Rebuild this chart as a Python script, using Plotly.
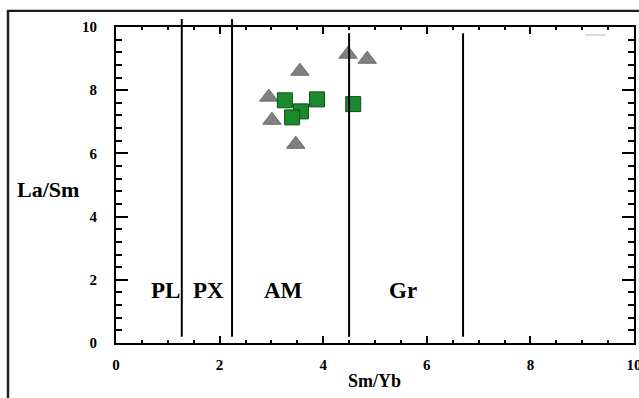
import plotly.graph_objects as go

# ---- data ----
tri_x = [4.48, 4.85, 3.55, 2.95, 3.01, 3.47]
tri_y = [9.14, 8.98, 8.60, 7.78, 7.05, 6.29]

sq_x = [3.26, 3.88, 3.57, 3.40, 4.58]
sq_y = [7.68, 7.71, 7.33, 7.14, 7.56]

boundary_x = [1.27, 2.24, 4.50, 6.70]
boundary_top = [10.25, 10.25, 9.8, 9.8]
boundary_bottom = [0.2, 0.2, 0.2, 0.2]

field_labels = ["PL", "PX", "AM", "Gr"]
field_x = [0.95, 1.78, 3.24, 5.54]
field_y = [1.65, 1.65, 1.65, 1.65]

X_RANGE = [0, 10]
Y_RANGE = [0, 10]
X_DTICK = 2
Y_DTICK = 2

SERIF = "Liberation Serif, Times New Roman, serif"

fig = go.Figure()

fig.add_trace(go.Scatter(
    x=tri_x, y=tri_y, mode="markers",
    marker=dict(symbol="triangle-up", size=16, color="#808080",
                line=dict(color="#6a6a6a", width=1)),
    showlegend=False, cliponaxis=False))

fig.add_trace(go.Scatter(
    x=sq_x, y=sq_y, mode="markers",
    marker=dict(symbol="square", size=15, color="#1b8a2c",
                line=dict(color="#0c4f16", width=1)),
    showlegend=False, cliponaxis=False))


def py(v):
    return (v - Y_RANGE[0]) / (Y_RANGE[1] - Y_RANGE[0])


shapes = []
for bx, bt, bb in zip(boundary_x, boundary_top, boundary_bottom):
    shapes.append(dict(type="line", xref="x", yref="paper",
                       x0=bx, x1=bx, y0=py(bb), y1=py(bt),
                       line=dict(color="black", width=2)))

# outer picture border: top edge as a thin filled band, left edge as a line
shapes.append(dict(type="rect", xref="paper", yref="paper",
                   x0=-0.2105, x1=1.05, y0=1.0475, y1=1.0545,
                   fillcolor="#1a1a1a", line=dict(width=0), layer="above"))
shapes.append(dict(type="line", xref="paper", yref="paper",
                   x0=-0.2085, x1=-0.2085, y0=-0.3, y1=1.054,
                   line=dict(color="#222222", width=2.5), layer="above"))
# faint artefact near top right
shapes.append(dict(type="line", xref="paper", yref="paper",
                   x0=0.905, x1=0.945, y0=0.975, y1=0.975,
                   line=dict(color="#d5dbe0", width=2)))

annotations = []
for t, fx, fy in zip(field_labels, field_x, field_y):
    annotations.append(dict(text=t, x=fx, y=fy, xref="x", yref="y",
                            xanchor="center", yanchor="middle",
                            showarrow=False,
                            font=dict(family=SERIF, size=23, color="black",
                                      weight="bold")))

annotations.append(dict(text="La/Sm", x=-0.132, y=0.487, xref="paper",
                        yref="paper", xanchor="center", yanchor="middle",
                        showarrow=False,
                        font=dict(family=SERIF, size=22, color="black",
                                  weight="bold")))
annotations.append(dict(text="Sm/Yb", x=0.499, y=-0.12, xref="paper",
                        yref="paper", xanchor="center", yanchor="middle",
                        showarrow=False,
                        font=dict(family=SERIF, size=18, color="black",
                                  weight="bold")))

axis_common = dict(showgrid=False, zeroline=False, showline=True,
                   linecolor="black", linewidth=2, mirror="ticks",
                   ticks="inside", tickcolor="black", tickwidth=2,
                   tickmode="linear", tick0=0, ticklabeloverflow="allow",
                   automargin=False,
                   tickfont=dict(family=SERIF, size=15, color="black",
                                 weight="bold"))

fig.update_layout(
    width=639, height=398,
    margin=dict(l=116, r=5, t=27, b=55),
    paper_bgcolor="white", plot_bgcolor="white",
    shapes=shapes, annotations=annotations,
    xaxis=dict(range=X_RANGE, dtick=X_DTICK, ticklen=7,
               ticklabelstandoff=7,
               minor=dict(dtick=0.5, ticks="inside", ticklen=3,
                          tickcolor="black", tickwidth=2),
               **axis_common),
    yaxis=dict(range=Y_RANGE, dtick=Y_DTICK, ticklen=12,
               ticklabelstandoff=14,
               minor=dict(dtick=0.4, ticks="inside", ticklen=6,
                          tickcolor="black", tickwidth=2),
               **axis_common),
)

fig.write_html("out.html", config={"displayModeBar": False},
               post_script="document.body.style.margin='0';document.body.style.overflow='hidden';")
